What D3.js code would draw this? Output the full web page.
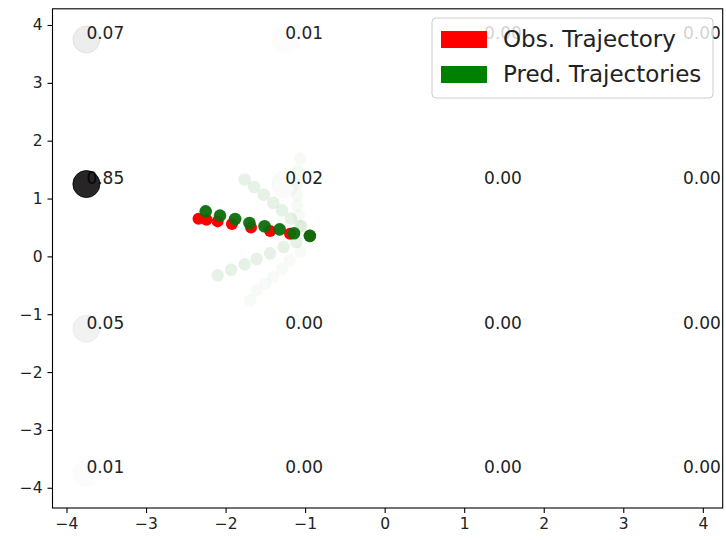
<!DOCTYPE html>
<html>
<head>
<meta charset="utf-8">
<script src="https://cdn.jsdelivr.net/npm/d3@7"></script>
<style>
  body { margin: 0; background: #fff; }
  svg { display: block; font-family: "DejaVu Sans", sans-serif; }
  .axis line { stroke: #000; stroke-width: 1.1; }
</style>
</head>
<body>
<svg id="graph"></svg>
<script>
/* grid of goal cells and their probabilities */
var gridX = [-3.75, -1.25, 1.25, 3.75];
var gridY = [3.75, 1.25, -1.25, -3.75];
var gridProb = [
  [0.07, 0.01, 0.00, 0.00],
  [0.85, 0.02, 0.00, 0.00],
  [0.05, 0.00, 0.00, 0.00],
  [0.01, 0.00, 0.00, 0.00]
];

/* observed trajectory */
var obsX = [-2.34, -2.24, -2.10, -1.92, -1.68, -1.44, -1.19, -0.94];
var obsY = [0.65, 0.635, 0.605, 0.56, 0.50, 0.44, 0.39, 0.355];

/* predicted trajectories (first is the most likely) */
var predX = [
  [-0.94, -1.14, -1.32, -1.51, -1.70, -1.88, -2.07, -2.25],
  [-0.94, -1.06, -1.18, -1.29, -1.40, -1.52, -1.64, -1.76],
  [-0.94, -1.11, -1.27, -1.44, -1.61, -1.76, -1.93, -2.10],
  [-0.94, -1.04, -1.08, -1.10, -1.10, -1.10, -1.09, -1.06],
  [-0.94, -1.06, -1.19, -1.29, -1.40, -1.50, -1.61, -1.69]
];
var predY = [
  [0.355, 0.40, 0.467, 0.52, 0.577, 0.647, 0.704, 0.778],
  [0.355, 0.525, 0.652, 0.795, 0.928, 1.067, 1.20, 1.33],
  [0.355, 0.249, 0.162, 0.052, -0.045, -0.138, -0.23, -0.328],
  [0.355, 0.52, 0.70, 0.88, 1.06, 1.26, 1.48, 1.69],
  [0.355, 0.081, -0.069, -0.213, -0.351, -0.472, -0.588, -0.761]
];
var predProb = [0.85, 0.1, 0.1, 0.04, 0.03];

var legendLabels = ["Obs. Trajectory", "Pred. Trajectories"];
var legendColors = ["red", "green"];
var ticks = [-4, -3, -2, -1, 0, 1, 2, 3, 4];

var svg = d3.select("#graph")
    .attr("width", 726)
    .attr("height", 540);

var margin = {top: 8.8, right: 3.3, bottom: 32, left: 52.5},
    width = +svg.attr("width") - margin.left - margin.right,
    height = +svg.attr("height") - margin.top - margin.bottom;

var x = d3.scaleLinear().domain([-4.176, 4.25]).range([0, width]),
    y = d3.scaleLinear().domain([-4.35, 4.28]).range([height, 0]);

var g = svg.append("g")
    .attr("transform", "translate(" + margin.left + "," + margin.top + ")");

var xaxis = g.append("g")
    .attr("class", "axis")
    .attr("transform", "translate(0," + height + ")")
    .call(d3.axisBottom(x).tickValues(ticks).tickSize(5).tickPadding(5).tickSizeOuter(0));

var yaxis = g.append("g")
    .attr("class", "axis")
    .call(d3.axisLeft(y).tickValues(ticks).tickSize(5).tickPadding(5).tickSizeOuter(0));

g.selectAll(".axis .domain").remove();
g.selectAll(".axis")
    .attr("font-family", "DejaVu Sans, sans-serif")
    .attr("font-size", 15.5);
g.selectAll(".axis text").attr("fill", "#222");

/* flatten grid into cells */
var cells = [];
gridY.forEach(function(gy, i) {
    gridX.forEach(function(gx, j) {
        cells.push({x: gx, y: gy, p: gridProb[i][j]});
    });
});

// labels first, circles drawn over them
g.selectAll(".prob-label")
  .data(cells)
  .enter().append("text")
    .attr("class", "prob-label")
    .attr("x", function(d) { return x(d.x); })
    .attr("y", function(d) { return y(d.y); })
    .attr("font-size", 17)
    .attr("fill", "#222")
    .text(function(d) { return d.p.toFixed(2); });

g.selectAll(".prob-dot")
  .data(cells)
  .enter().append("circle")
    .attr("class", "prob-dot")
    .attr("cx", function(d) { return x(d.x); })
    .attr("cy", function(d) { return y(d.y); })
    .attr("r", 13.5)
    .attr("fill", "#000")
    .attr("fill-opacity", function(d) { return d.p; })
    .attr("stroke", "#000")
    .attr("stroke-width", 1)
    .attr("stroke-opacity", function(d) { return d.p; });

var obs = obsX.map(function(v, i) { return {x: v, y: obsY[i]}; });
g.selectAll(".obs")
  .data(obs)
  .enter().append("circle")
    .attr("class", "obs")
    .attr("cx", function(d) { return x(d.x); })
    .attr("cy", function(d) { return y(d.y); })
    .attr("r", 6)
    .attr("fill", "red");

// faint ones first, most likely on top
var order = d3.range(predX.length).reverse();
order.forEach(function(k) {
    var pts = predX[k].map(function(v, i) { return {x: v, y: predY[k][i]}; });
    g.selectAll(".pred" + k)
      .data(pts)
      .enter().append("circle")
        .attr("class", "pred" + k)
        .attr("cx", function(d) { return x(d.x); })
        .attr("cy", function(d) { return y(d.y); })
        .attr("r", 6.3)
        .attr("fill", k === 0 ? "#0b6e0b" : "green")
        .attr("fill-opacity", k === 0 ? 0.95 : predProb[k]);
});

/* spines */
g.append("rect")
    .attr("width", width)
    .attr("height", height)
    .attr("fill", "none")
    .attr("stroke", "#000")
    .attr("stroke-width", 1.1);

/* legend */
var lg = svg.append("g").attr("transform", "translate(432,18)");
lg.append("rect")
    .attr("width", 281)
    .attr("height", 80)
    .attr("rx", 4)
    .attr("fill", "#fff")
    .attr("fill-opacity", 0.8)
    .attr("stroke", "#ccc")
    .attr("stroke-width", 1);

var items = lg.selectAll(".item")
  .data(legendLabels)
  .enter().append("g")
    .attr("class", "item")
    .attr("transform", function(d, i) { return "translate(9," + (13 + i * 35) + ")"; });

items.append("rect")
    .attr("width", 46)
    .attr("height", 17)
    .attr("fill", function(d, i) { return legendColors[i]; });

items.append("text")
    .attr("x", 62)
    .attr("y", 16)
    .attr("font-size", 23)
    .attr("fill", "#222")
    .text(function(d) { return d; });
</script>
</body>
</html>
